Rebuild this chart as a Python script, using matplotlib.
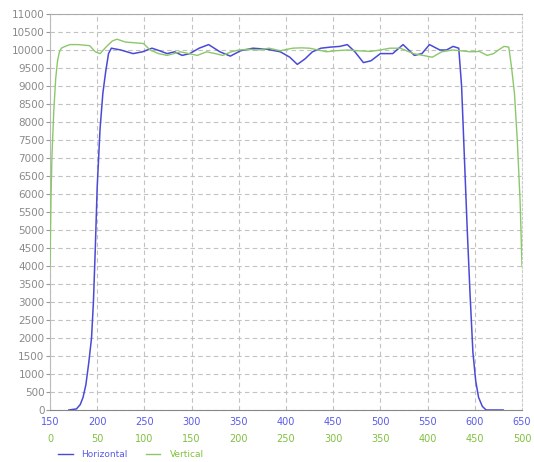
import matplotlib
matplotlib.use("Agg")
import matplotlib.pyplot as plt
from matplotlib.lines import Line2D

# Horizontal profile (x in 150..650 scale)
h_x = [170, 178, 182, 185, 188, 191, 194, 196, 198, 200, 203, 206, 209, 212, 215,
       225, 238, 248, 258, 266, 274, 282, 290, 298, 308, 318, 330, 341, 352, 365,
       380, 394, 404, 412, 420, 428, 437, 447, 457, 465, 473, 482, 490, 500, 513,
       524, 536, 544, 552, 563, 570, 577, 583, 586, 589, 592, 595, 598, 601, 604,
       608, 612, 630]
h_y = [0, 30, 150, 350, 700, 1300, 2000, 3000, 4500, 6200, 7800, 8800, 9400, 9900, 10050,
       10000, 9900, 9950, 10050, 9980, 9900, 9950, 9850, 9900, 10050, 10150, 9950, 9830, 9980, 10050,
       10020, 9950, 9800, 9600, 9750, 9950, 10050, 10080, 10100, 10150, 9950, 9650, 9700, 9900, 9900,
       10150, 9850, 9900, 10150, 10000, 10000, 10100, 10050, 9000, 7000, 5000, 3200, 1600, 800, 350,
       100, 0, 0]

# Vertical profile (x in 0..500 scale)
v_x = [0, 1, 2, 4, 6, 8, 10, 12, 16, 21, 30, 42, 48, 53, 60, 66, 71, 80, 90, 99,
       106, 115, 124, 131, 138, 147, 156, 166, 175, 183, 192, 200, 210, 220, 232, 244,
       257, 266, 275, 284, 293, 303, 315, 326, 339, 350, 360, 371, 385, 395, 405, 415,
       426, 435, 445, 455, 463, 470, 475, 481, 486, 489, 492, 495, 498, 500]
v_y = [4000, 5800, 7000, 8300, 9200, 9700, 9950, 10050, 10100, 10150, 10150, 10120, 9950, 9900,
       10100, 10250, 10300, 10220, 10200, 10180, 10000, 9900, 9850, 9900, 9950, 9900, 9850, 9950,
       9900, 9850, 9950, 10000, 10020, 10000, 10050, 9980, 10050, 10060, 10050, 10000, 9950, 9980,
       10000, 9980, 9960, 10000, 10050, 10050, 9900, 9850, 9800, 9950, 10000, 9980, 9950, 9960,
       9850, 9900, 10000, 10100, 10080, 9500, 8800, 7500, 5800, 4000]

h_ticks = list(range(150, 651, 50))
v_ticks = list(range(0, 501, 50))
y_ticks = list(range(0, 11001, 500))

BLUE = "#4a4ad6"
GREEN = "#8cc86a"
BLUE_T = "#5a5ae8"
GREEN_T = "#80c040"
GRAY_T = "#8a8a8a"

fig = plt.figure(figsize=(5.34, 4.62), dpi=100)
ax = fig.add_axes([50/534, 52/462, 472/534, 396/462])
ax.set_xlim(150, 650)
ax.set_ylim(0, 11000)

ax.set_yticks(y_ticks)
ax.set_xticks(h_ticks)
ax.tick_params(axis='y', labelsize=7.5, labelcolor=GRAY_T, color="#999999", length=3, pad=1)
ax.tick_params(axis='x', labelsize=7, labelcolor=BLUE_T, length=0, pad=5)
ax.grid(True, color="#c2c2c2", linestyle=(0, (4, 3)), linewidth=0.8)

ax.spines["left"].set_color("#bbbbbb")
ax.spines["bottom"].set_color("#888888")
ax.spines["top"].set_color("#aaaaaa")
ax.spines["right"].set_color("#cccccc")
ax.spines["right"].set_linestyle((0, (2, 2)))

ax.plot(h_x, h_y, color=BLUE, linewidth=1.1, zorder=3)

ax2 = ax.twiny()
ax2.set_xlim(0, 500)
ax2.set_xticks(v_ticks)
ax2.xaxis.set_ticks_position('bottom')
ax2.xaxis.set_label_position('bottom')
ax2.spines['bottom'].set_position(('outward', 14))
for s in ax2.spines.values():
    s.set_visible(False)
ax2.tick_params(axis='x', labelsize=7, labelcolor=GREEN_T, length=0, pad=3)
ax2.plot(v_x, v_y, color=GREEN, linewidth=1.0, zorder=2)

handles = [Line2D([], [], color=BLUE, lw=1), Line2D([], [], color=GREEN, lw=1)]
leg = fig.legend(handles, ["Horizontal", "Vertical"], loc='lower left',
                 bbox_to_anchor=(50/534, -0.012), ncol=2, frameon=False,
                 fontsize=6.5, handlelength=1.6, columnspacing=2.0, handletextpad=1.0)
for t, c in zip(leg.get_texts(), [BLUE_T, GREEN_T]):
    t.set_color(c)

fig.savefig("out.png", dpi=100)
